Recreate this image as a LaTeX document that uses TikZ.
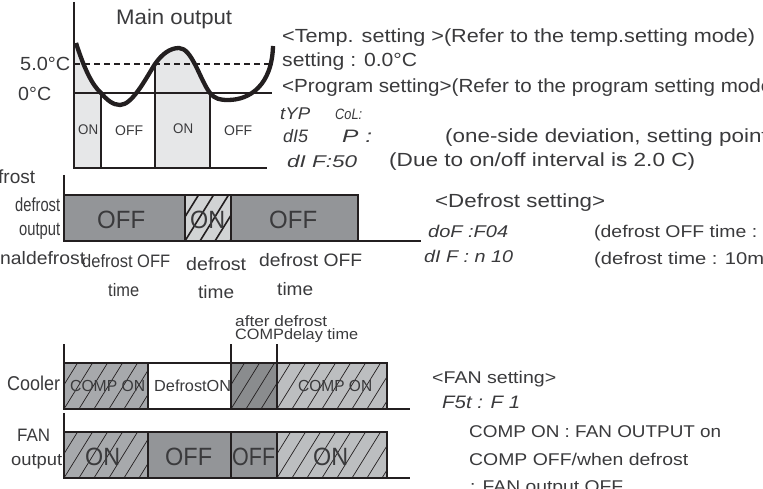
\documentclass[tikz,border=0pt]{standalone}
\usepackage{fontspec}
\usepackage{graphicx}
\setmainfont{Liberation Sans}
\definecolor{ink}{HTML}{3A3A3C}
\definecolor{line}{HTML}{231F20}
\definecolor{lightfill}{HTML}{E6E7E8}
\definecolor{gA}{HTML}{A7A9AC}
\definecolor{gB}{HTML}{939598}
\definecolor{gC}{HTML}{BCBEC0}
\definecolor{gD}{HTML}{D1D3D4}
\definecolor{gE}{HTML}{8A8C8E}
\newcounter{tn}
% x, y(baseline), size, width, text
\newcommand{\TT}[5]{\stepcounter{tn}\node[anchor=base west,inner sep=0pt,text=ink] (t\arabic{tn}) at (#1,#2) {\resizebox{#4pt}{\height}{\fontsize{#3pt}{#3pt}\selectfont #5}};}
\newcommand{\SEG}[5]{\stepcounter{tn}\node[anchor=base west,inner sep=0pt,text=ink] (t\arabic{tn}) at (#1,#2) {\resizebox{#4pt}{\height}{\fontsize{#3pt}{#3pt}\selectfont\itshape #5}};}
% hatched box: x1,x2,y1,y2,fill,spacing,line width
\newcommand{\HB}[7]{\begin{scope}\clip (#1,#3) rectangle (#2,#4);\fill[#5] (#1,#3) rectangle (#2,#4);\foreach \k in {-10,...,40}{\draw[line,line width=#7pt] ({#1+\k*#6},#4) -- ({#1+\k*#6+(#4-#3)*0.62},#3);}\end{scope}}
\tikzset{frame/.style={line,line width=2.4pt}}
\begin{document}
\begin{tikzpicture}[x=1pt,y=-1pt]
\useasboundingbox (0,0) rectangle (763,489);
\clip (0,0) rectangle (763,489);
\fill[white] (0,0) rectangle (763,489);
% top chart
\fill[lightfill] (75,43) .. controls (84,68) and (92,85) .. (101,93) -- (101,167) -- (74,167) -- cycle;
\fill[lightfill] (155,64) .. controls (162,54) and (170,48) .. (179,48) .. controls (192,48) and (200,80) .. (210,93) -- (210,167) -- (155,167) -- cycle;
\draw[frame] (74,2) -- (74,168);
\draw[frame] (73,168) -- (267,168);
\draw[frame,line width=2pt] (74,93.5) -- (272,93.5);
\draw[frame,line width=2.2pt,dash pattern=on 6pt off 4pt] (74,64) -- (272,64);
\draw[frame] (101,93) -- (101,168) (155,64) -- (155,168) (210,93) -- (210,168);
\draw[line,line width=4.3pt] (76,43) .. controls (84,68) and (92,85) .. (101,93) .. controls (107,100) and (113,105) .. (120,105) .. controls (132,105) and (145,80) .. (155,64) .. controls (162,54) and (170,48) .. (179,48) .. controls (192,48) and (200,80) .. (210,93) .. controls (215,99) and (220,100) .. (228,100) .. controls (250,100) and (272,85) .. (273,46);
% defrost bar
\fill[gB] (64,195) rectangle (185,241);
\fill[gB] (231,195) rectangle (358,241);
\HB{185}{231}{195}{241}{gD}{15}{1.6}
\draw[frame] (64,175) -- (64,241) -- (421,241);
\draw[frame] (64,195) -- (358,195) -- (358,241);
\draw[frame] (185,195) -- (185,241) (231,195) -- (231,241);
% cooler
\HB{64}{148}{363}{409}{gA}{15}{0.7}
\HB{231}{277}{363}{409}{gE}{15}{0.7}
\HB{277}{387}{363}{409}{gC}{15}{0.7}
\draw[frame] (64,344) -- (64,409) -- (410,409);
\draw[frame] (64,363) -- (387,363) -- (387,409);
\draw[frame] (148,363) -- (148,409) (231,344) -- (231,409) (277,344) -- (277,409);
% fan
\HB{64}{148}{432}{478}{gA}{15}{0.7}
\fill[gB] (148,432) rectangle (277,478);
\HB{277}{387}{432}{478}{gC}{15}{0.7}
\draw[frame] (64,413) -- (64,478) -- (410,478);
\draw[frame] (64,432) -- (387,432) -- (387,478);
\draw[frame] (148,432) -- (148,478) (231,432) -- (231,478) (277,432) -- (277,478);
% chart text
\TT{116}{25}{21}{116}{Main output}
\TT{20}{71}{19}{50}{5.0°C}
\TT{18}{101}{19}{33}{0°C}
\TT{78}{135}{14}{20}{ON}
\TT{115}{136}{14}{28}{OFF}
\TT{173}{134}{14}{20}{ON}
\TT{224}{136}{14}{28}{OFF}
\TT{-2}{184}{19}{37}{frost}
\TT{15}{212}{19}{45}{defrost}
\TT{19}{236}{19}{41}{output}
\TT{97}{228}{25}{48}{OFF}
\TT{190}{228}{25}{35}{ON}
\TT{269}{228}{25}{48}{OFF}
\TT{0}{265}{18}{85}{naldefrost}
\TT{82}{267}{18}{88}{defrost OFF}
\TT{108}{296}{18}{31}{time}
\TT{186}{270}{18}{60}{defrost}
\TT{198}{298}{18}{36}{time}
\TT{259}{266}{18}{103}{defrost OFF}
\TT{277}{295}{18}{36}{time}
\TT{235}{326}{15}{92}{after defrost}
\TT{235}{339}{15}{123}{COMPdelay time}
\TT{7}{390}{20}{53}{Cooler}
\TT{70}{391}{16}{75}{COMP ON}
\TT{154}{391}{16}{77}{DefrostON}
\TT{298}{391}{16}{74}{COMP ON}
\TT{17}{441}{18}{33}{FAN}
\TT{11}{465}{17}{51}{output}
\TT{85}{465}{25}{35}{ON}
\TT{165}{465}{25}{47}{OFF}
\TT{232}{465}{25}{43}{OFF}
\TT{313}{465}{25}{35}{ON}
% right column
\TT{282}{43}{19}{473}{<Temp. setting >(Refer to the temp.setting mode)}
\TT{282}{67}{19}{135}{setting : 0.0°C}
\TT{282}{93}{19}{497}{<Program setting>(Refer to the program setting mode)}
\SEG{280}{120}{17}{30}{tYP}
\SEG{335}{120}{15}{27}{CoL:}
\SEG{283}{143}{18}{25}{dI5}
\SEG{342}{143}{18}{30}{P :}
\TT{445}{143}{19}{330}{(one-side deviation, setting point)}
\SEG{287}{168}{17}{70}{dI F:50}
\TT{389}{167}{19}{306}{(Due to on/off interval is 2.0  C)}
\TT{617}{165}{11}{6}{°}
\TT{435}{208}{19}{170}{<Defrost setting>}
\SEG{428}{238}{17}{80}{doF :F04}
\SEG{424}{262}{17}{89}{dI F : n 10}
\TT{594}{238}{17}{163}{(defrost OFF time :}
\TT{594}{265}{17}{170}{(defrost time : 10m}
\TT{432}{383}{17}{124}{<FAN setting>}
\SEG{442}{408}{18}{78}{F5t : F 1}
\TT{469}{437}{17}{252}{COMP ON : FAN OUTPUT on}
\TT{469}{465}{17}{219}{COMP OFF/when defrost}
\TT{470}{492}{17}{153}{: FAN output OFF}
\end{tikzpicture}
\end{document}
